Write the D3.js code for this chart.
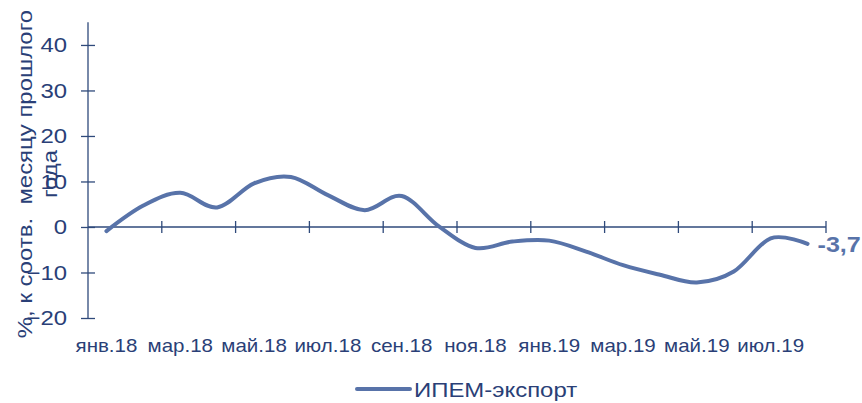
<!DOCTYPE html>
<html>
<head>
<meta charset="utf-8">
<script src="https://cdn.jsdelivr.net/npm/d3@7"></script>
<style>
  body { margin: 0; background: #fff; }
  text { font-family: "Liberation Sans", Arial, sans-serif; }
</style>
</head>
<body>
<div id="chart"></div>
<script>
// data
const months = ['янв.18', 'фев.18', 'мар.18', 'апр.18', 'май.18', 'июн.18', 'июл.18', 'авг.18',
  'сен.18', 'окт.18', 'ноя.18', 'дек.18', 'янв.19', 'фев.19', 'мар.19', 'апр.19',
  'май.19', 'июн.19', 'июл.19', 'авг.19']
const exportValues = [-0.9, 4.7, 7.5, 4.3, 9.6, 11.0, 7.0, 3.7, 6.8, 0.2,
  -4.6, -3.2, -3.0, -5.4, -8.4, -10.5, -12.2, -9.8, -2.5, -3.7]
const yTicks = [-20, -10, 0, 10, 20, 30, 40]
const seriesName = 'ИПЕМ-экспорт'
const lastLabel = '-3,7'

const width = 862
const height = 403
const axisColor = '#2f4a7b'
const textColor = '#2a3f77'
const lineColor = '#5873a9'
const stretch = 1.14 // the original text is drawn a bit wider than Arial

const svg = d3.select('#chart')
  .append('svg')
  .attr('width', width)
  .attr('height', height)

// scales
const x = d3.scaleBand()
  .domain(months)
  .range([88, 826])
  .padding(0)

const y = d3.scaleLinear()
  .domain([-20, 45])
  .range([318, 22.2])

const cx = function (m) { return x(m) + x.bandwidth() / 2 }

// Y axis
const yAxis = svg.append('g')
  .attr('transform', 'translate(88,0)')
  .call(d3.axisLeft(y).tickValues(yTicks).tickSize(7).tickPadding(14))
yAxis.select('.domain').attr('stroke', axisColor).attr('stroke-width', 1.3)
  .attr('d', 'M0,' + y(45) + 'V' + y(-20))
yAxis.selectAll('.tick line').attr('x1', -7).attr('x2', 7)
  .attr('stroke', axisColor).attr('stroke-width', 1.3)
yAxis.selectAll('.tick text')
  .attr('fill', textColor)
  .attr('x', -21 / stretch)
  .attr('transform', 'scale(' + stretch + ',1)')
  .style('font-size', '21px')
  .style('font-family', '"Liberation Sans", Arial, sans-serif')

// X axis at zero
svg.append('line')
  .attr('x1', x.range()[0]).attr('x2', x.range()[1])
  .attr('y1', y(0)).attr('y2', y(0))
  .attr('stroke', axisColor).attr('stroke-width', 1.3)

const boundaries = months.filter(function (d, i) { return i % 2 === 0 && i > 0 })
  .map(function (m) { return x(m) })
boundaries.push(x.range()[1])
svg.selectAll('.xtick')
  .data(boundaries)
  .enter()
  .append('line')
  .attr('x1', function (d) { return d }).attr('x2', function (d) { return d })
  .attr('y1', y(0) - 6).attr('y2', y(0) + 6)
  .attr('stroke', axisColor).attr('stroke-width', 1.3)

svg.selectAll('.xlabel')
  .data(months.filter(function (d, i) { return i % 2 === 0 }))
  .enter()
  .append('text')
  .attr('transform', function (d) { return 'translate(' + cx(d) + ',352) scale(' + stretch + ',1)' })
  .attr('text-anchor', 'middle')
  .attr('fill', textColor)
  .style('font-size', '18px')
  .text(function (d) { return d })

// Y axis title
const title = svg.append('text')
  .attr('transform', 'translate(0,174) rotate(-90) scale(' + stretch + ',1)')
  .attr('text-anchor', 'middle')
  .attr('fill', textColor)
  .style('font-size', '21px')
title.append('tspan').attr('x', 0).attr('y', 32).text('%, к соотв.\u00a0 месяцу прошлого')
title.append('tspan').attr('x', 0).attr('y', 57).text('года')

// line
const line = d3.line()
  .x(function (d, i) { return cx(months[i]) })
  .y(function (d) { return y(d) })
  .curve(d3.curveCatmullRom.alpha(0))

svg.append('path')
  .datum(exportValues)
  .attr('fill', 'none')
  .attr('stroke', lineColor)
  .attr('stroke-width', 4)
  .attr('stroke-linecap', 'round')
  .attr('d', line)

// last value label
svg.append('text')
  .attr('transform', 'translate(' + (cx(months[months.length - 1]) + 10) + ',' +
    (y(exportValues[exportValues.length - 1]) + 8) + ') scale(' + stretch + ',1)')
  .attr('fill', lineColor)
  .style('font-size', '22px')
  .style('font-weight', 'bold')
  .text(lastLabel)

// legend
svg.append('line')
  .attr('x1', 357).attr('x2', 410)
  .attr('y1', 389).attr('y2', 389)
  .attr('stroke', lineColor).attr('stroke-width', 4)
  .attr('stroke-linecap', 'round')
svg.append('text')
  .attr('transform', 'translate(414,397) scale(' + stretch + ',1)')
  .attr('fill', textColor)
  .style('font-size', '21px')
  .text(seriesName)
</script>
</body>
</html>
